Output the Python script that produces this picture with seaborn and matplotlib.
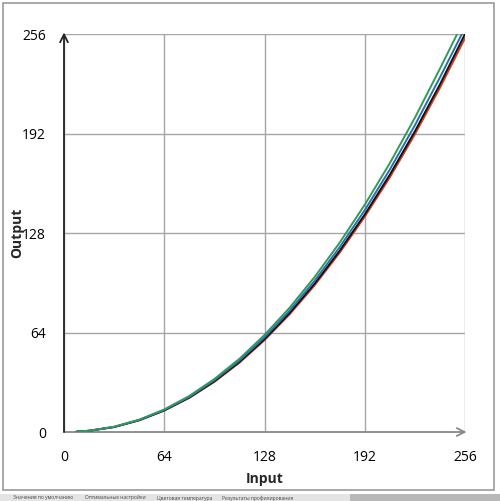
import numpy as np
import pandas as pd
import seaborn as sns
import matplotlib.pyplot as plt
from matplotlib.patches import Rectangle

# values (input -> output)
inputs = [8, 16, 32, 48, 64, 80, 96, 112, 128, 144, 160, 176, 192, 208, 224, 240, 256]
red_out = [0.2, 0.8, 3.2, 7.5, 13.8, 22.0, 32.3, 44.6, 59.1, 75.7, 94.4, 115.4, 138.5, 163.8, 191.5, 221.4, 253.4]
black_out = [0.2, 0.8, 3.2, 7.6, 13.9, 22.2, 32.6, 45.1, 59.7, 76.5, 95.4, 116.6, 139.9, 165.5, 193.4, 223.6, 256.0]
blue_out = [0.2, 0.8, 3.3, 7.8, 14.2, 22.6, 33.3, 46.0, 60.9, 78.0, 97.3, 118.9, 142.7, 168.8, 197.3, 228.1, 256.0]
green_out = [0.2, 0.8, 3.4, 7.9, 14.5, 23.2, 34.1, 47.1, 62.4, 79.9, 99.7, 121.8, 146.2, 172.9, 202.1, 233.7, 256.0]
blue_in = inputs[:-1] + [254]
green_in = inputs[:-1] + [251]

ticks = [0, 64, 128, 192, 256]
tabs = ["Значения по умолчанию", "Оптимальные настройки", "Цветовая температура", "Результаты профилирования"]

df = pd.concat([
    pd.DataFrame({"Input": inputs, "Output": red_out, "ch": "red"}),
    pd.DataFrame({"Input": inputs, "Output": black_out, "ch": "black"}),
    pd.DataFrame({"Input": blue_in, "Output": blue_out, "ch": "blue"}),
    pd.DataFrame({"Input": green_in, "Output": green_out, "ch": "green"}),
])
palette = {"red": "#d23a22", "black": "#111111", "blue": "#2a6cae", "green": "#2f9a5c"}

sns.set_style("white")
plt.rcParams['font.family'] = ['Open Sans', 'DejaVu Sans']

fig = plt.figure(figsize=(5, 5.01), dpi=100)
ax = fig.add_axes([0.128, 0.1377, 0.802, 0.7944])

sns.lineplot(data=df, x="Input", y="Output", hue="ch", palette=palette,
             hue_order=["red", "black", "blue", "green"], linewidth=1.4,
             legend=False, ax=ax, zorder=3, sort=False)

ax.set_xlim(0, 256)
ax.set_ylim(0, 256)
ax.set_xticks(ticks)
ax.set_yticks(ticks)
ax.grid(True, color="#a6a6a6", linewidth=1)
for s in ax.spines.values():
    s.set_visible(False)
ax.tick_params(length=0, labelsize=10, colors="#000000")
ax.tick_params(axis="x", pad=13)
ax.tick_params(axis="y", pad=13)

# axis arrows
ax.annotate("", xy=(0, 257), xytext=(0, 0), xycoords="data",
            arrowprops=dict(arrowstyle="->", color="#222222", lw=1.3, mutation_scale=14,
                            shrinkA=0, shrinkB=0), annotation_clip=False, zorder=4)
ax.annotate("", xy=(257, 0), xytext=(0, 0), xycoords="data",
            arrowprops=dict(arrowstyle="->", color="#888888", lw=1.3, mutation_scale=14,
                            shrinkA=0, shrinkB=0), annotation_clip=False, zorder=2)

ax.set_xlabel("Input", fontsize=10, fontweight="bold")
ax.set_ylabel("Output", fontsize=10, fontweight="bold")
ax.xaxis.set_label_coords(0.5, -0.10)
ax.yaxis.set_label_coords(-0.10, 0.5)

# chart border and the tab strip under it
fig.patches.append(Rectangle((0.006, 0.022), 0.982, 0.972, transform=fig.transFigure,
                             fill=False, edgecolor="#9a9a9a", linewidth=1.2))
fig.patches.append(Rectangle((0, 0), 1, 0.014, transform=fig.transFigure,
                             facecolor="#e4e4e4", edgecolor="none"))
fig.patches.append(Rectangle((0.7, 0), 0.3, 0.014, transform=fig.transFigure,
                             facecolor="#b8b8b8", edgecolor="none"))
xs = [0.026, 0.17, 0.314, 0.444]
for x, t in zip(xs, tabs):
    fig.text(x, 0.006, t, fontsize=3.6, color="#444444", va="center")

fig.savefig("out.png", dpi=100, facecolor="white")
